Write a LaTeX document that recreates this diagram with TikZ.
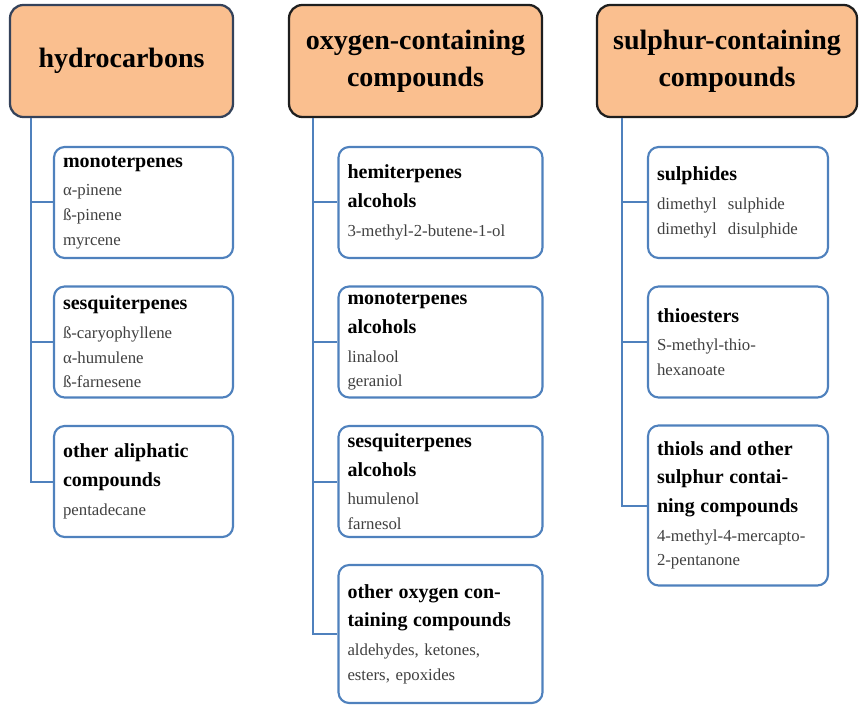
\documentclass[tikz,border=0pt]{standalone}
\usepackage{fontspec}
\setmainfont{Liberation Serif}
\definecolor{peach}{RGB}{250,191,143}
\definecolor{hdline}{RGB}{30,30,30}
\definecolor{hcline}{RGB}{52,66,90}
\definecolor{subline}{RGB}{79,129,189}
\newcommand{\hd}[1]{{\fontsize{15}{18}\selectfont\bfseries\color{black}#1}}

\begin{document}
\begin{tikzpicture}[
    x=0.75pt, y=-0.75pt,
    head/.style={rectangle, draw=hdline, fill=peach, line width=1.7pt, rounded corners=10pt, minimum height=84pt, align=center, font=\fontsize{21}{27.5}\selectfont\bfseries},
    sub/.style={rectangle, draw=subline, line width=1.6pt, rounded corners=8pt, minimum height=83.25pt, text width=#1, inner xsep=6.75pt, inner ysep=2pt, align=left, text=black!75, font=\fontsize{12.6}{18.5}\selectfont},
    link/.style={draw=subline, line width=1.5pt}
]
\useasboundingbox (0,0) rectangle (861,706);

% Headers
\node[head, draw=hcline, minimum width=167.25pt] (hc) at (121.5,61) {hydrocarbons};
\node[head, minimum width=189.75pt] (ox) at (415.5,61) {oxygen-containing\\compounds};
\node[head, minimum width=195pt] (su) at (727,61) {sulphur-containing\\compounds};

% Hydrocarbons
\node[sub=120.75pt] (hc1) at (143.5,202.5) {\hd{monoterpenes}\\[3pt] α-pinene\\ ß-pinene\\ myrcene};
\node[sub=120.75pt] (hc2) at (143.5,342) {\hd{sesquiterpenes}\\[3pt] ß-caryophyllene\\ α-humulene\\ ß-farnesene};
\node[sub=120.75pt] (hc3) at (143.5,481.5) {\hd{other aliphatic}\\[3pt] \hd{compounds}\\[3pt] pentadecane};

% Oxygen-containing
\node[sub=139.5pt] (ox1) at (440.5,202.5) {\hd{hemiterpenes}\\[3pt] \hd{alcohols}\\[3pt] 3-methyl-2-butene-1-ol};
\node[sub=139.5pt] (ox2) at (440.5,342) {\hd{monoterpenes}\\[3pt] \hd{alcohols}\\[3pt] linalool\\ geraniol};
\node[sub=139.5pt] (ox3) at (440.5,481.5) {\hd{sesquiterpenes}\\[3pt] \hd{alcohols}\\[3pt] humulenol\\ farnesol};
\node[sub=139.5pt, minimum height=103.5pt] (ox4) at (440.5,634) {\hd{other oxygen con-}\\[3pt] \hd{taining compounds}\\[3pt] aldehydes, ketones,\\ esters, epoxides};

% Sulphur-containing
\node[sub=121.5pt] (su1) at (738,202.5) {\hd{sulphides}\\[3pt] dimethyl\ \ sulphide\\ dimethyl\ \ disulphide};
\node[sub=121.5pt] (su2) at (738,342) {\hd{thioesters}\\[3pt] S-methyl-thio-\\ hexanoate};
\node[sub=121.5pt, minimum height=120pt] (su3) at (738,505.5) {\hd{thiols and other}\\[3pt] \hd{sulphur contai-}\\[3pt] \hd{ning compounds}\\[3pt] 4-methyl-4-mercapto-\\ 2-pentanone};

% Connectors
\coordinate (hcbus) at ([xshift=16.5pt]hc.south west);
\coordinate (oxbus) at ([xshift=18.75pt]ox.south west);
\coordinate (subus) at ([xshift=19.5pt]su.south west);
\foreach \i in {1,2,3} \draw[link] (hcbus) |- (hc\i.west);
\foreach \i in {1,...,4} \draw[link] (oxbus) |- (ox\i.west);
\foreach \i in {1,2,3} \draw[link] (subus) |- (su\i.west);
\end{tikzpicture}
\end{document}
